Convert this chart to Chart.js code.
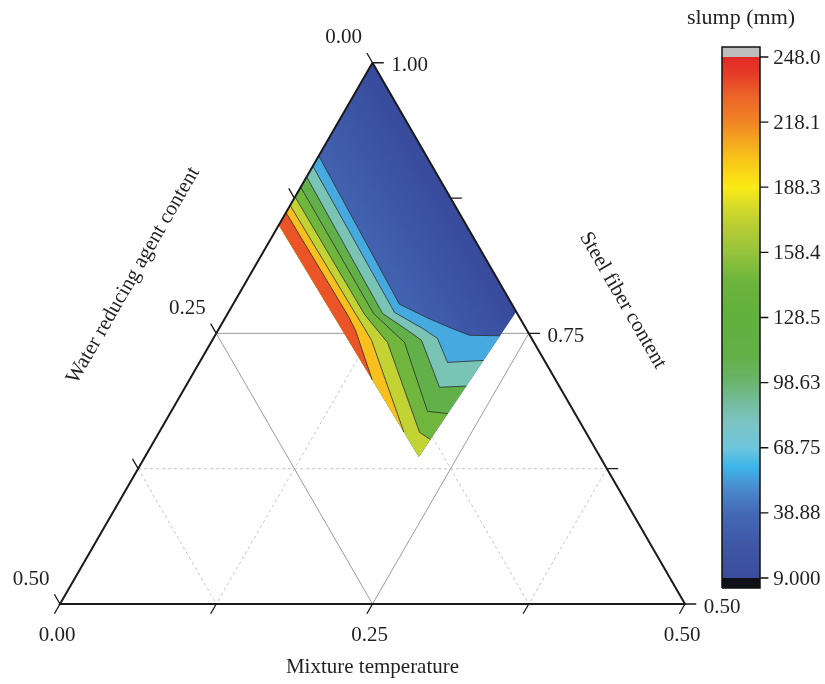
<!DOCTYPE html>
<html>
<head>
<meta charset="utf-8">
<script src="https://cdn.jsdelivr.net/npm/chart.js@4.4.1/dist/chart.umd.min.js"></script>
<style>
  html, body { margin: 0; padding: 0; background: #fff; }
  #wrap { position: relative; width: 825px; height: 684px; }
</style>
</head>
<body>
<div id="wrap"><canvas id="ternary" width="825" height="684"></canvas></div>
<script>
/* ================= DATA ================= */
// points are [mixture temperature, water reducing agent]; steel fiber = 1 - a - b

const gridSteps = [0.125, 0.25, 0.375];
const axisTicks = [0, 0.125, 0.25, 0.375, 0.5];
const mixtureLabels = [0, 0.25, 0.5];
const waterLabels = [0, 0.25, 0.5];
const steelLabels = [1, 0.75, 0.5];

const colorbarTicks = [9.000, 38.88, 68.75, 98.63, 128.5, 158.4, 188.3, 218.1, 248.0];
const colorbarLabels = ["9.000", "38.88", "68.75", "98.63", "128.5", "158.4", "188.3", "218.1", "248.0"];

// corners of the measured region: top, right, bottom, left
const designRegion = [[0, 0], [0.23, 0], [0.219, 0.145], [0, 0.15]];

// contour lines, lowest level first
const slumpLevels = [38.88, 68.75, 98.63, 128.5, 158.4, 188.3, 218.1];
const contour38 = [[0, 0.086], [0.067, 0.088], [0.133, 0.090], [0.161, 0.0744], [0.184, 0.0606], [0.2035, 0.0483], [0.2282, 0.024]];
const contour68 = [[0, 0.0955], [0.1329, 0.0977], [0.1627, 0.0827], [0.1793, 0.0753], [0.1984, 0.0784], [0.2263, 0.0487]];
const contour98 = [[0, 0.1054], [0.1238, 0.1078], [0.1516, 0.0956], [0.1674, 0.0890], [0.2035, 0.0963], [0.2244, 0.0743]];
const contour128 = [[0, 0.1149], [0.1166, 0.1150], [0.1388, 0.1084], [0.1547, 0.1036], [0.2050, 0.1170], [0.2222, 0.1019]];
const contour158 = [[0, 0.1239], [0.1098, 0.1226], [0.1276, 0.1196], [0.1412, 0.1172], [0.2083, 0.1331], [0.2202, 0.1278]];
const contour188 = [[0, 0.1318], [0.1039, 0.1295], [0.1163, 0.1291], [0.1274, 0.1290], [0.1957, 0.1455]];
const contour218 = [[0, 0.1384], [0.098, 0.1364], [0.110, 0.1372], [0.1463, 0.1467]];
const contourLines = [contour38, contour68, contour98, contour128, contour158, contour188, contour218];

// fill of each band: below 38.88, then above each level
const bandColors = ["#3c52a2", "#46aae0", "#7ac4b6", "#62b04a", "#70b63c", "#c4d334", "#f8c01c", "#ea5427"];
const baseShade = ["#384a9c", "#4262b0"];

const colormapValues = [9, 25, 38.88, 50, 60, 68.75, 80, 90, 98.63, 110, 128.5, 145, 158.4, 170, 180, 188.3, 200, 210, 218.1, 230, 240, 248];
const colormapColors = ["#3b4d9c", "#3f58a6", "#4469b5", "#4a8acc", "#3db5e9", "#6ec6dc", "#7cc4c4", "#74bc9c", "#6ab46e", "#63b048",
                        "#62b03e", "#6cb43c", "#96c43c", "#b8cc34", "#d8dc28", "#fbea14", "#f8c818", "#f4a420", "#f08424", "#ec6428", "#e63c26", "#e22826"];

/* ================= PROJECTION ================= */

const H = Math.sqrt(3) / 2;
const SLUMP_MIN = 9, SLUMP_MAX = 248;
const TICK = 0.009;

function toXY(p) {
    return { x: 0.25 + 0.5 * p[0] - 0.5 * p[1], y: (0.5 - p[0] - p[1]) * H };
}

function toPixel(chart, p) {
    const q = toXY(p);
    return [chart.scales.x.getPixelForValue(q.x), chart.scales.y.getPixelForValue(q.y)];
}

function segmentsData(segs) {
    const out = [];
    segs.forEach((s, i) => {
        if (i > 0) out.push({ x: null, y: null });
        s.forEach(p => out.push(toXY(p)));
    });
    return out;
}

function lineSet(data, color, width, order, extra) {
    return Object.assign({
        data, showLine: true, fill: false, pointRadius: 0, pointHoverRadius: 0,
        borderColor: color, borderWidth: width, order, spanGaps: false
    }, extra || {});
}

function shapeSet(data, color, order, axes) {
    return Object.assign({
        data, showLine: true, fill: 'shape', pointRadius: 0, pointHoverRadius: 0,
        borderWidth: 0, borderColor: 'rgba(0,0,0,0)', backgroundColor: color, order
    }, axes || {});
}

/* ================= DATASETS ================= */

const datasets = [];

// grid
const solidGrid = [], dashedGrid = [];
gridSteps.forEach(v => {
    const target = v === 0.25 ? solidGrid : dashedGrid;
    target.push([[v, 0], [v, 0.5 - v]]);
    target.push([[0, v], [0.5 - v, v]]);
    target.push([[0, v], [v, 0]]);
});
datasets.push(lineSet(segmentsData(dashedGrid), '#c4c4c4', 1, 100, { borderDash: [3, 3] }));
datasets.push(lineSet(segmentsData(solidGrid), '#9b9b9b', 1, 99));

// contour fills: base region shaded across the water axis, then one band above each level
datasets.push(shapeSet(designRegion.map(toXY), function (c) {
    const chart = c.chart;
    if (!chart.chartArea) return bandColors[0];
    const p0 = toPixel(chart, designRegion[0]);
    const p1 = toPixel(chart, contour38[0]);
    if (!p0.concat(p1).every(isFinite)) return bandColors[0];
    // shade perpendicular to the constant-water direction
    const dx = p1[0] - p0[0], dy = p1[1] - p0[1];
    const d = -0.866 * dx + 0.5 * dy;
    const g = chart.ctx.createLinearGradient(p0[0], p0[1], p0[0] - 0.866 * d, p0[1] + 0.5 * d);
    g.addColorStop(0, baseShade[0]);
    g.addColorStop(1, baseShade[1]);
    return g;
}, 90));
contourLines.forEach((line, k) => {
    const pts = line.slice();
    const end = line[line.length - 1];
    if (end[1] < 0.14) pts.push(designRegion[2]);
    pts.push(designRegion[3]);
    datasets.push(shapeSet(pts.map(toXY), bandColors[k + 1], 89 - k));
});

// contour lines
contourLines.forEach(line => datasets.push(lineSet(line.map(toXY), 'rgba(45,45,45,0.8)', 1, 20)));

// triangle and ticks
const ticks = [];
axisTicks.forEach(v => {
    ticks.push([[v, 0.5 - v], [v, 0.5 - v + TICK]]);
    ticks.push([[0, v], [-TICK, v]]);
    ticks.push([[v, 0], [v + TICK, -TICK]]);
});
datasets.push(lineSet(segmentsData(ticks), '#1a1a1a', 1.3, 5));
datasets.push(lineSet([[0, 0], [0.5, 0], [0, 0.5], [0, 0]].map(toXY), '#1a1a1a', 2, 4));

// colorbar
const cbAxes = { xAxisID: 'xc', yAxisID: 'yc' };
const cbCapTop = SLUMP_MAX + 4.6, cbCapBottom = SLUMP_MIN - 4.6;
function cbRect(lo, hi) {
    return [{ x: 0, y: lo }, { x: 1, y: lo }, { x: 1, y: hi }, { x: 0, y: hi }];
}
datasets.push(shapeSet(cbRect(SLUMP_MIN, SLUMP_MAX), function (c) {
    const chart = c.chart;
    const yc = chart.scales.yc;
    if (!yc || !chart.chartArea) return colormapColors[0];
    const y0 = yc.getPixelForValue(SLUMP_MIN), y1 = yc.getPixelForValue(SLUMP_MAX);
    if (!isFinite(y0) || !isFinite(y1)) return colormapColors[0];
    const g = chart.ctx.createLinearGradient(0, y0, 0, y1);
    colormapValues.forEach((v, i) => g.addColorStop((v - SLUMP_MIN) / (SLUMP_MAX - SLUMP_MIN), colormapColors[i]));
    return g;
}, 50, cbAxes));
datasets.push(shapeSet(cbRect(SLUMP_MAX, cbCapTop), '#bdbdbd', 50, cbAxes));
datasets.push(shapeSet(cbRect(cbCapBottom, SLUMP_MIN), '#101018', 50, cbAxes));
datasets.push(lineSet(cbRect(cbCapBottom, cbCapTop).concat([{ x: 0, y: cbCapBottom }]), '#111', 1.5, 3, cbAxes));
const cbTickData = [];
colorbarTicks.forEach((v, i) => {
    if (i > 0) cbTickData.push({ x: null, y: null });
    cbTickData.push({ x: 1, y: v }, { x: 1.22, y: v });
});
datasets.push(lineSet(cbTickData, '#111', 1.3, 3, cbAxes));

/* ================= LABELS ================= */

const FONT = '"Liberation Serif", "Times New Roman", serif';

const labelPlugin = {
    id: 'ternaryLabels',
    afterDatasetsDraw(chart) {
        const { ctx, scales } = chart;
        const px = p => toPixel(chart, p);
        ctx.save();
        ctx.fillStyle = '#231f20';
        ctx.font = '21px ' + FONT;
        ctx.textAlign = 'center';
        ctx.textBaseline = 'middle';

        mixtureLabels.forEach(a => { const [x, y] = px([a, 0.5 - a]); ctx.fillText(a.toFixed(2), x - 3, y + 31); });
        waterLabels.forEach(b => { const [x, y] = px([0, b]); ctx.fillText(b.toFixed(2), x - 29, y - 25); });
        steelLabels.forEach(c => { const [x, y] = px([1 - c, 0]); ctx.fillText(c.toFixed(2), x + 37, y + 3); });

        let [bx, by] = px([0.25, 0.25]);
        ctx.fillText('Mixture temperature', bx, by + 63);

        let [lx, ly] = px([0, 0.25]);
        ctx.save(); ctx.translate(lx - 83, ly - 58); ctx.rotate(-Math.PI / 3);
        ctx.fillText('Water reducing agent content', 0, 0); ctx.restore();

        let [rx, ry] = px([0.25, 0]);
        ctx.save(); ctx.translate(rx + 94, ry - 33); ctx.rotate(Math.PI / 3);
        ctx.fillText('Steel fiber content', 0, 0); ctx.restore();

        // colorbar
        const xc = scales.xc, yc = scales.yc;
        ctx.textAlign = 'left';
        colorbarTicks.forEach((v, i) => ctx.fillText(colorbarLabels[i], xc.getPixelForValue(1.35), yc.getPixelForValue(v) + 1));
        ctx.textAlign = 'center';
        ctx.font = '22px ' + FONT;
        ctx.fillText('slump (mm)', xc.getPixelForValue(0.5), 18);
        ctx.restore();
    }
};

/* ================= CHART ================= */

new Chart(document.getElementById('ternary'), {
    type: 'scatter',
    data: { datasets },
    options: {
        responsive: false,
        animation: false,
        layout: { padding: 0 },
        plugins: { legend: { display: false }, tooltip: { enabled: false }, title: { display: false } },
        scales: {
            x: { type: 'linear', min: -0.048, max: 0.612, display: false },
            y: { type: 'linear', min: -0.064, max: 0.4832, display: false },
            xc: { type: 'linear', axis: 'x', min: -19, max: 2.7105, display: false },
            yc: { type: 'linear', axis: 'y', min: -39.63, max: 274.15, display: false }
        }
    },
    plugins: [labelPlugin]
});
</script>
</body>
</html>
